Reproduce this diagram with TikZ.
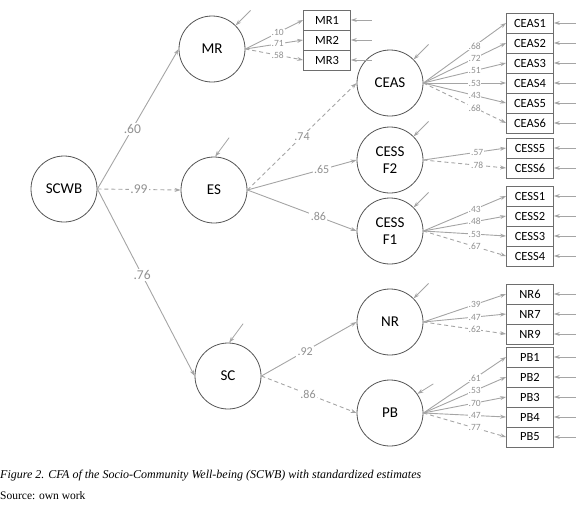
\documentclass[tikz,border=0pt]{standalone}
\usepackage{fontspec}
\setmainfont{Liberation Serif}
\setsansfont{Carlito}
\usetikzlibrary{arrows.meta,calc}
\definecolor{linegray}{RGB}{165,165,165}
\definecolor{labelgray}{RGB}{145,145,145}
\definecolor{rimgray}{RGB}{85,85,85}

\begin{document}
\begin{tikzpicture}[x=1pt,y=-1pt,
  latent/.style={draw=rimgray,circle,line width=.8pt,minimum size=66pt,inner sep=0pt,align=center,font=\sffamily\fontsize{15}{17}\selectfont},
  item/.style={draw=rimgray!85,line width=.8pt,minimum width=47pt,minimum height=20pt,inner sep=0pt,font=\sffamily\fontsize{12.5}{13}\selectfont},
  load/.style={linegray,line width=.9pt,-{Stealth[length=6pt,width=4pt]}},
  fixed/.style={load,dash pattern=on 4pt off 3pt},
  err/.style={linegray,line width=.8pt,-{Stealth[length=6pt,width=4pt]}},
  coef/.style={fill=white,inner sep=1.5pt,text=labelgray,font=\sffamily\fontsize{13.5}{14}\selectfont},
  subcoef/.style={coef,font=\sffamily\fontsize{12}{13}\selectfont},
  wt/.style={fill=white,inner sep=.8pt,text=labelgray,font=\sffamily\fontsize{9.5}{10}\selectfont}]
\useasboundingbox (0,0) rectangle (580,520);

% latent factors
\node[latent] (scwb) at (64,189) {SCWB};
\node[latent] (mr) at (212,49) {MR};
\node[latent] (es) at (214,190) {ES};
\node[latent] (sc) at (228,376) {SC};
\node[latent] (ceas) at (390,83) {CEAS};
\node[latent] (cessb) at (390,160) {CESS\\F2};
\node[latent] (cessa) at (390,231) {CESS\\F1};
\node[latent] (nr) at (390,322) {NR};
\node[latent] (pb) at (390,413) {PB};

% observed items
\foreach \i/\y in {1/20,2/40,3/60}
  \node[item] (mr\i) at (327,\y) {MR\i};
\foreach \i/\y in {1/23,2/43,3/63,4/83,5/103,6/123}
  \node[item] (ceas\i) at (530,\y) {CEAS\i};
\foreach \i/\y in {5/148,6/168}
  \node[item] (cess\i) at (530,\y) {CESS\i};
\foreach \i/\y in {1/196,2/216,3/236,4/256}
  \node[item] (cess\i) at (530,\y) {CESS\i};
\foreach \i/\y in {6/294,7/314,9/334}
  \node[item] (nr\i) at (530,\y) {NR\i};
\foreach \i/\y in {1/357,2/377,3/397,4/417,5/437}
  \node[item] (pb\i) at (530,\y) {PB\i};

% second order paths
\draw[load] (scwb.east) -- node[coef,pos=.43] {.60} (mr.west);
\draw[fixed] (scwb.east) -- node[coef,pos=.5] {.99} (es.west);
\draw[load] (scwb.east) -- node[coef,pos=.46] {.76} (sc.west);
\draw[fixed] (es.east) -- node[subcoef,pos=.5] {.74} (ceas.west);
\draw[load] (es.east) -- node[subcoef,pos=.68] {.65} (cessb.west);
\draw[load] (es.east) -- node[subcoef,pos=.65] {.86} (cessa.west);
\draw[load] (sc.east) -- node[subcoef,pos=.46] {.92} (nr.west);
\draw[fixed] (sc.east) -- node[subcoef,pos=.49] {.86} (pb.west);

% loadings
\foreach \i/\v in {1/.10,2/.71}
  \draw[load] (mr.east) -- node[wt,pos=.56] {\v} (mr\i.west);
\draw[fixed] (mr.east) -- node[wt,pos=.56] {.58} (mr3.west);
\foreach \i/\v in {1/.68,2/.72,3/.51,4/.53,5/.43}
  \draw[load] (ceas.east) -- node[wt,pos=.62] {\v} (ceas\i.west);
\draw[fixed] (ceas.east) -- node[wt,pos=.62] {.68} (ceas6.west);
\draw[load] (cessb.east) -- node[wt,pos=.65] {.57} (cess5.west);
\draw[fixed] (cessb.east) -- node[wt,pos=.65] {.78} (cess6.west);
\foreach \i/\v in {1/.43,2/.48,3/.53}
  \draw[load] (cessa.east) -- node[wt,pos=.62] {\v} (cess\i.west);
\draw[fixed] (cessa.east) -- node[wt,pos=.62] {.67} (cess4.west);
\foreach \i/\v in {6/.39,7/.47}
  \draw[load] (nr.east) -- node[wt,pos=.62] {\v} (nr\i.west);
\draw[fixed] (nr.east) -- node[wt,pos=.62] {.62} (nr9.west);
\foreach \i/\v in {1/.61,2/.53,3/.70,4/.47}
  \draw[load] (pb.east) -- node[wt,pos=.62] {\v} (pb\i.west);
\draw[fixed] (pb.east) -- node[wt,pos=.62] {.77} (pb5.west);

% error terms
\foreach \f in {mr,ceas,cessb,cessa,nr}
  \draw[err] ($(\f.45)+(15,-15)$) -- (\f.45);
\draw[err] ($(pb.35)+(16,-10)$) -- (pb.35);
\foreach \f in {es,sc}
  \draw[err] ($(\f.88)+(14,-19)$) -- (\f.88);
\foreach \b in {mr1,mr2,mr3}
  \draw[err] ($(\b.east)+(21,0)$) -- (\b.east);
\foreach \b in {ceas1,ceas2,ceas3,ceas4,ceas5,ceas6,cess5,cess6,cess1,cess2,cess3,cess4,nr6,nr7,nr9,pb1,pb2,pb3,pb4,pb5}
  \draw[err] ($(\b.east)+(22,0)$) -- (\b.east);

% caption
\node[anchor=base west,inner sep=0pt,font=\itshape\fontsize{12}{14}\selectfont] (cap) at (0,478)
  {Figure 2. CFA of the Socio-Community Well-being (SCWB) with standardized estimates};
\node[anchor=base west,inner sep=0pt,font=\fontsize{11.5}{14}\selectfont] (src) at (0,499) {Source: own work};
\end{tikzpicture}
\end{document}
